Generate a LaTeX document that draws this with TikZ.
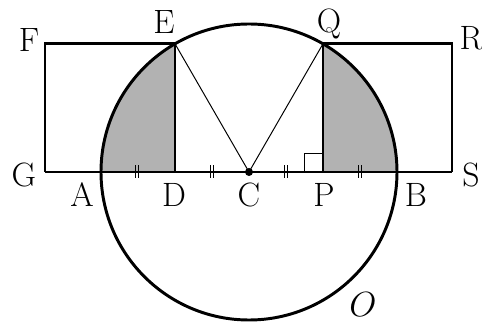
\documentclass[tikz,border=0pt]{standalone}
\usepackage{amsfonts,amssymb,amsmath}
\usepackage{xcolor}
\usepackage{tikz}
\usetikzlibrary{arrows.meta}

\begin{document}
\begin{tikzpicture}[x=0.025cm,y=0.025cm,line width=2.1pt,
lbl/.style={anchor=base,inner sep=0pt,font=\fontsize{24}{28}\selectfont},
eqmark/.style={line width=0.7pt},
rtmark/.style={line width=0.7pt}]
\useasboundingbox(0,0)rectangle(482,323);
\coordinate(C)at(249,151);
\coordinate(A)at(101,151);\coordinate(B)at(397,151);
\coordinate(D)at(175,151);\coordinate(E)at(175,279.2);
\coordinate(P)at(323,151);\coordinate(Q)at(323,279.2);
\coordinate(F)at(45,279.2);\coordinate(G)at(45,151);
\coordinate(R)at(452,279.2);\coordinate(S)at(452,151);
% shaded parts
\fill[black!30](A)arc[start angle=180,end angle=120,radius=148]--(D)--cycle;
\fill[black!30](B)arc[start angle=0,end angle=60,radius=148]--(P)--cycle;
\draw(C)circle[radius=148];
\draw(G)--(S);
\draw(D)--(E)--(F)--(G);
\draw(P)--(Q)--(R)--(S);
\draw[line width=0.7pt](E)--(C)--(Q);
\fill(C)circle[radius=4];
\foreach \m in {137,212,286,360}
\draw[eqmark](\m-1.6,145)--(\m-1.6,158)(\m+1.6,145)--(\m+1.6,158);
\draw[rtmark](P)++(-19,0)--++(0,19)--++(19,0);
% labels
\node[lbl](lF)at(29,271){F};
\node[lbl](lE)at(164,289){E};
\node[lbl](lQ)at(329,290){Q};
\node[lbl](lR)at(471,273){R};
\node[lbl](lG)at(24,136){G};
\node[lbl](lS)at(471,136){S};
\node[lbl](lA)at(82,116){A};
\node[lbl](lD)at(174,116){D};
\node[lbl](lC)at(249,116){C};
\node[lbl](lP)at(324,116){P};
\node[lbl](lB)at(416,116){B};
\node[lbl](lO)at(363,6){$O$};
\end{tikzpicture}
\end{document}
